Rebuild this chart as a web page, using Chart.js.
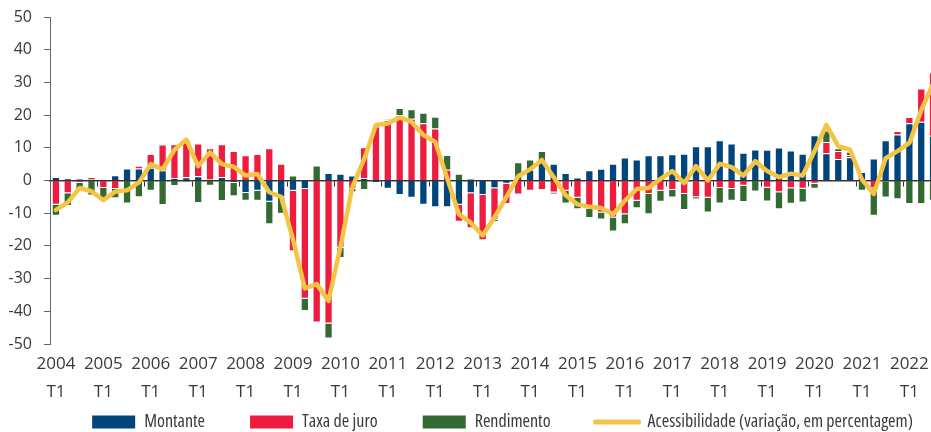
<!DOCTYPE html>
<html>
<head>
<meta charset="utf-8">
<script src="https://cdn.jsdelivr.net/npm/chart.js@4.4.0/dist/chart.umd.min.js"></script>
<style>
html, body { margin: 0; padding: 0; overflow: hidden; background: #fff; }
#wrap { width: 940px; height: 432px; }
</style>
</head>
<body>
<div id="wrap"><canvas id="chart" width="940" height="432"></canvas></div>
<script>
var years = [2004, 2005, 2006, 2007, 2008, 2009, 2010, 2011, 2012, 2013,
	2014, 2015, 2016, 2017, 2018, 2019, 2020, 2021, 2022];
var quarters = ["T1", "T2", "T3", "T4"];

// 2004 T1 ... 2022 T3, one value per quarter
var montante = [1.1, 0.6, 0.5, 0.3, 0.0, 1.6, 3.7, 3.7, 3.9, 3.1,
	0.7, 1.0, 1.3, 0.3, 1.1, -0.8, -3.8, -3.1, -6.5, -5.1,
	-3.1, -2.6, 0.0, 2.3, 2.1, 1.5, 0.7, -0.8, -2.5, -4.4,
	-5.3, -7.4, -8.2, -8.2, -7.4, -3.9, -4.4, -2.4, -1.0, 0.0,
	3.4, 5.7, 5.1, 2.3, 0.9, 3.1, 3.6, 5.1, 7.0, 6.4,
	7.7, 7.7, 8.0, 8.2, 10.5, 10.5, 12.3, 11.3, 8.5, 9.5,
	9.4, 10.1, 9.2, 8.2, 13.8, 8.3, 6.6, 7.1, 2.6, 6.7,
	12.3, 14.1, 17.5, 18.0, 13.7];
var taxaJuro = [-7.4, -3.9, -0.8, 0.8, -2.3, -2.6, 0.0, 0.8, 4.2, 7.9,
	10.4, 11.5, 10.0, 9.6, 10.0, 9.0, 7.7, 8.1, 9.9, 5.1,
	-18.5, -33.6, -43.4, -43.7, -20.6, -2.6, 9.5, 16.5, 18.5, 20.0,
	18.9, 17.5, 15.9, 3.3, -5.2, -10.7, -13.9, -9.5, -6.2, -4.3,
	-3.1, -2.9, -3.7, -3.1, -5.3, -8.7, -9.8, -11.3, -10.3, -6.2,
	-4.1, -3.1, -2.9, -4.1, -5.1, -5.3, -2.3, -2.6, -1.6, 0.0,
	-2.2, -3.6, -2.4, -2.5, -1.0, 3.5, 2.4, 0.7, 0.0, -2.4,
	-0.2, 1.0, 1.9, 10.1, 19.3];
var rendimento = [-3.4, -3.9, -2.0, -4.6, -3.9, -2.8, -7.0, -5.1, -3.1, -7.5,
	-1.7, -0.5, -6.9, -1.6, -6.3, -4.0, -2.4, -3.1, -6.9, -5.1,
	1.5, -3.7, 4.6, -4.6, -3.1, -1.0, -2.9, 0.5, 0.2, 2.2,
	2.9, 3.2, 3.6, 4.5, 2.1, 0.5, 0.0, -0.8, 0.0, 5.6,
	3.0, 3.3, -0.5, -3.9, -3.5, -2.8, -2.1, -4.3, -3.1, -2.3,
	-6.2, -3.4, -2.3, -4.9, -0.7, -4.5, -4.7, -3.6, -5.0, -3.4,
	-4.2, -5.2, -4.7, -4.2, -1.5, 3.5, 0.9, 1.0, -3.1, -8.4,
	-5.0, -5.7, -7.2, -7.2, -6.2];
var acessibilidade = [-9.0, -6.7, -2.3, -3.3, -6.0, -3.4, -3.0, -0.6, 5.0, 3.4,
	9.4, 12.5, 4.4, 8.6, 5.0, 4.2, 1.5, 2.0, -3.6, -5.0,
	-18.0, -33.0, -31.7, -36.8, -20.3, -2.1, 6.5, 17.0, 17.4, 19.3,
	17.9, 13.9, 11.8, 0.8, -10.3, -12.9, -16.8, -11.3, -5.1, 1.3,
	3.4, 6.3, 1.0, -4.5, -7.3, -8.0, -8.4, -10.3, -6.2, -2.6,
	-2.3, 0.5, 2.9, -0.8, 4.4, 0.0, 5.1, 4.1, 1.5, 5.9,
	2.9, 1.0, 2.1, 1.5, 9.0, 17.0, 10.5, 9.4, 0.3, -4.1,
	6.8, 9.0, 11.5, 21.5, 29.5];

var BLUE = "#00457c";
var RED = "#ee1c3e";
var GREEN = "#326a32";
var YELLOW = "#f4c445";
var TEXT = "#3a3a3a";

var labels = [];
for (var i = 0; i < montante.length; ++i) {
	labels.push([String(years[Math.floor(i / 4)]), quarters[i % 4]]);
}

function barSet(label, data, color) {
	return {
		type: "bar",
		label: label,
		data: data,
		backgroundColor: color,
		borderColor: "rgba(255,255,255,0.35)",
		borderWidth: 1,
		barPercentage: 0.7,
		categoryPercentage: 1,
		stack: "bars",
		order: 1,
		xAxisID: "x",
		yAxisID: "y"
	};
}

// the legend in the original sits a bit right of the page centre
var legendShift = {
	id: "legendShift",
	afterLayout: function(chart) {
		chart.legend.left += 33;
		chart.legend.right += 33;
	}
};

var ctx = document.getElementById("chart").getContext("2d");
var chart = new Chart(ctx, {
	data: {
		labels: labels,
		datasets: [
			barSet("Montante", montante, BLUE),
			barSet("Taxa de juro", taxaJuro, RED),
			barSet("Rendimento", rendimento, GREEN),
			{
				type: "line",
				label: "Acessibilidade (variação, em percentagem)",
				data: acessibilidade,
				borderColor: YELLOW,
				backgroundColor: YELLOW,
				borderWidth: 4.5,
				borderJoinStyle: "round",
				borderCapStyle: "round",
				pointRadius: 0,
				tension: 0,
				stack: "line",
				order: 0,
				xAxisID: "x",
				yAxisID: "y"
			}
		]
	},
	plugins: [legendShift],
	options: {
		responsive: false,
		animation: false,
		layout: {
			padding: { top: 0, right: 1, bottom: -9, left: 0 }
		},
		scales: {
			// main category axis: only keeps room between plot and legend
			x: {
				type: "category",
				stacked: true,
				offset: true,
				grid: { display: false },
				border: { display: false },
				ticks: { display: false },
				afterFit: function(scale) {
					scale.height = 24;
				}
			},
			// zero line with year ticks
			x2: {
				type: "category",
				axis: "x",
				position: { y: 0 },
				offset: true,
				z: 1,
				grid: {
					offset: true,
					drawOnChartArea: false,
					drawTicks: true,
					tickLength: 5,
					color: function(c) {
						return c.index % 4 === 0 ? "#333" : "rgba(0,0,0,0)";
					}
				},
				border: { display: true, color: "#333", width: 1.5 },
				ticks: { display: false }
			},
			// year / quarter labels under the plot
			x3: {
				type: "category",
				axis: "x",
				position: { y: -50 },
				offset: true,
				grid: { display: false },
				border: { display: false },
				ticks: {
					autoSkip: false,
					maxRotation: 0,
					padding: -2,
					color: TEXT,
					font: { family: "'Open Sans', sans-serif", size: 17, lineHeight: 1.65 },
					callback: function(value, index) {
						return index % 4 === 0 ? this.getLabelForValue(value) : "";
					}
				}
			},
			y: {
				stacked: true,
				min: -50,
				max: 50,
				ticks: {
					stepSize: 10,
					padding: 12,
					color: TEXT,
					font: { family: "'Open Sans', sans-serif", size: 16 }
				},
				grid: {
					drawOnChartArea: false,
					drawTicks: true,
					tickLength: 6,
					color: "#666"
				},
				border: { display: true, color: "#666", width: 1 },
				afterFit: function(scale) {
					scale.width = 50;
					scale.paddingTop = 17;
					scale.paddingBottom = 10;
				}
			}
		},
		plugins: {
			tooltip: { enabled: false },
			legend: {
				position: "bottom",
				labels: {
					usePointStyle: true,
					pointStyleWidth: 43,
					boxHeight: 13,
					padding: 45,
					color: TEXT,
					font: { family: "'Open Sans', sans-serif", size: 18, weight: "normal condensed" },
					generateLabels: function(chart) {
						var items = Chart.defaults.plugins.legend.labels.generateLabels(chart);
						items.sort(function(a, b) { return a.datasetIndex - b.datasetIndex; });
						items.forEach(function(item) {
							if (item.datasetIndex === 3) {
								item.pointStyle = "line";
								item.lineWidth = 5;
								item.lineCap = "round";
								item.strokeStyle = YELLOW;
							} else {
								item.pointStyle = "rect";
								item.lineWidth = 0;
							}
						});
						return items;
					}
				}
			}
		}
	}
});
</script>
</body>
</html>
